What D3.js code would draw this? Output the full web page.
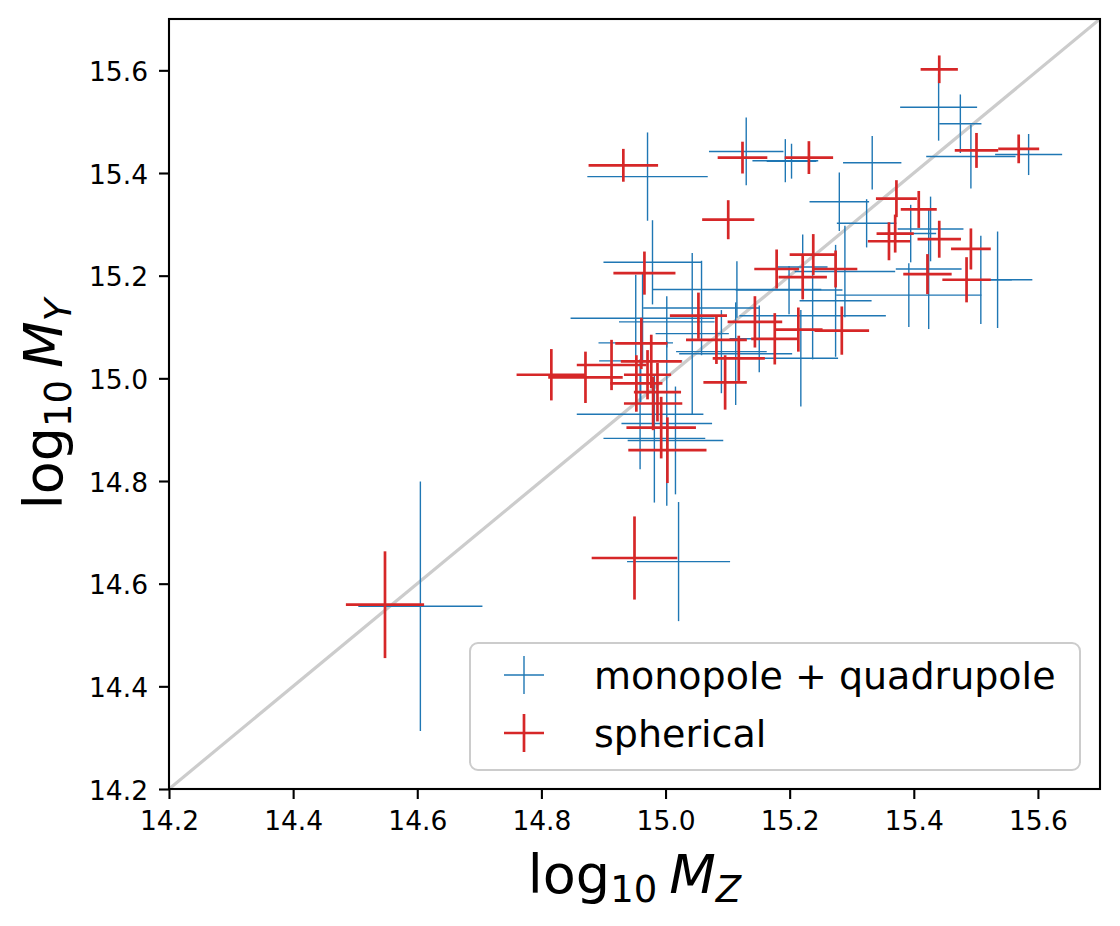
<!DOCTYPE html>
<html>
<head>
<meta charset="utf-8">
<script src="https://cdn.jsdelivr.net/npm/d3@7"></script>
<style>
  body { margin: 0; background: #fff; }
  svg { display: block; font-family: "DejaVu Sans", sans-serif; }
</style>
</head>
<body>
<svg></svg>
<script>
// --------------- data (log10 masses)

// monopole + quadrupole
const mqX    = [14.605, 15.021, 14.971, 15.130, 15.193, 15.203, 15.333, 15.440, 15.475, 15.492,
                15.585, 15.280, 15.324, 15.427, 15.395, 15.392, 15.424, 15.508, 15.535, 15.289,
                14.979, 15.115, 15.199, 15.058, 15.043, 15.002, 15.002, 14.963, 14.952, 14.960,
                14.959, 14.982, 15.016, 15.090, 15.113, 15.218, 15.237, 15.221, 15.274, 15.151];
const mqY    = [14.556, 14.643, 15.393, 15.442, 15.424, 15.423, 15.420, 15.528, 15.496, 15.432,
                15.436, 15.344, 15.302, 15.291, 15.282, 15.162, 15.213, 15.192, 15.192, 15.208,
                15.226, 15.173, 15.172, 15.137, 15.087, 15.110, 14.912, 15.117, 15.069, 15.034,
                14.930, 14.883, 14.879, 15.052, 15.048, 15.039, 15.122, 15.217, 15.151, 15.077];
const mqXerr = [0.100, 0.083, 0.097, 0.060, 0.053, 0.040, 0.047, 0.062, 0.034, 0.072,
                0.054, 0.048, 0.048, 0.053, 0.041, 0.117, 0.053, 0.050, 0.056, 0.081,
                0.079, 0.136, 0.086, 0.094, 0.059, 0.077, 0.073, 0.116, 0.060, 0.067,
                0.102, 0.082, 0.077, 0.073, 0.091, 0.060, 0.118, 0.040, 0.058, 0.048];
const mqYerr = [0.243, 0.116, 0.086, 0.066, 0.042, 0.034, 0.052, 0.065, 0.057, 0.062,
                0.040, 0.057, 0.047, 0.063, 0.056, 0.062, 0.117, 0.086, 0.094, 0.089,
                0.082, 0.055, 0.047, 0.092, 0.157, 0.050, 0.160, 0.088, 0.133, 0.080,
                0.107, 0.125, 0.105, 0.081, 0.100, 0.094, 0.085, 0.063, 0.109, 0.065];

// spherical
const spX    = [14.548, 14.950, 14.816, 14.871, 14.913, 14.961, 14.977, 14.971, 14.953, 14.980,
                14.987, 14.993, 15.003, 14.932, 15.124, 15.231, 15.101, 15.441, 15.501, 15.569,
                15.372, 15.408, 15.370, 15.360, 15.441, 15.492, 15.422, 15.485, 15.284, 15.238,
                15.179, 15.221, 15.274, 15.144, 15.176, 15.214, 15.118, 15.096, 15.053, 15.082,
                14.966];
const spY    = [14.559, 14.650, 15.007, 15.002, 15.026, 15.068, 15.033, 15.007, 14.990, 14.951,
                14.973, 14.904, 14.860, 15.415, 15.430, 15.430, 15.309, 15.602, 15.444, 15.447,
                15.350, 15.329, 15.282, 15.267, 15.271, 15.252, 15.203, 15.192, 15.093, 15.241,
                15.213, 15.197, 15.213, 15.110, 15.077, 15.095, 15.039, 14.992, 15.122, 15.075,
                15.205];
const spXerr = [0.063, 0.069, 0.056, 0.060, 0.056, 0.042, 0.049, 0.038, 0.042, 0.047,
                0.038, 0.056, 0.063, 0.056, 0.040, 0.039, 0.042, 0.030, 0.035, 0.033,
                0.033, 0.029, 0.030, 0.034, 0.035, 0.032, 0.039, 0.039, 0.044, 0.038,
                0.036, 0.039, 0.035, 0.044, 0.038, 0.039, 0.042, 0.035, 0.046, 0.049,
                0.050];
const spYerr = [0.104, 0.081, 0.050, 0.050, 0.049, 0.050, 0.052, 0.048, 0.055, 0.052,
                0.057, 0.060, 0.064, 0.032, 0.031, 0.032, 0.038, 0.027, 0.034, 0.028,
                0.036, 0.036, 0.037, 0.037, 0.036, 0.040, 0.039, 0.044, 0.047, 0.040,
                0.038, 0.043, 0.036, 0.050, 0.050, 0.043, 0.044, 0.053, 0.045, 0.047,
                0.042];

const tickValues = [14.2, 14.4, 14.6, 14.8, 15.0, 15.2, 15.4, 15.6];
const legendLabels = ['monopole + quadrupole', 'spherical'];

// --------------- setup
const width = 1120;
const height = 926;
const plotLeft = 169, plotRight = 1100, plotTop = 19, plotBottom = 789;

const svg = d3.select('svg')
  .attr('width', width)
  .attr('height', height);

const xScale = d3.scaleLinear().domain([14.2, 15.7]).range([plotLeft, plotRight]);
const yScale = d3.scaleLinear().domain([14.2, 15.7]).range([plotBottom, plotTop]);

const blue = '#1f77b4';
const red = '#d62728';

// clip so nothing leaks past the frame
svg.append('clipPath').attr('id', 'plot-clip')
  .append('rect')
  .attr('x', plotLeft).attr('y', plotTop)
  .attr('width', plotRight - plotLeft).attr('height', plotBottom - plotTop);

const plot = svg.append('g').attr('clip-path', 'url(#plot-clip)');

// one-to-one line
plot.append('line')
  .attr('x1', xScale(14.2)).attr('y1', yScale(14.2))
  .attr('x2', xScale(15.7)).attr('y2', yScale(15.7))
  .attr('stroke', '#cccccc')
  .attr('stroke-width', 3.2);

// error bar crosses
function drawSeries(xs, ys, xe, ye, color, lw) {
  const pts = xs.map(function (x, i) {
    return { x: x, y: ys[i], xe: xe[i], ye: ye[i] };
  });
  const g = plot.append('g').attr('stroke', color).attr('stroke-width', lw);

  g.selectAll('line.h').data(pts).enter()
    .append('line').attr('class', 'h')
    .attr('x1', d => xScale(d.x - d.xe))
    .attr('x2', d => xScale(d.x + d.xe))
    .attr('y1', d => yScale(d.y))
    .attr('y2', d => yScale(d.y));

  g.selectAll('line.v').data(pts).enter()
    .append('line').attr('class', 'v')
    .attr('x1', d => xScale(d.x))
    .attr('x2', d => xScale(d.x))
    .attr('y1', d => yScale(d.y - d.ye))
    .attr('y2', d => yScale(d.y + d.ye));
}

drawSeries(mqX, mqY, mqXerr, mqYerr, blue, 1.4);
drawSeries(spX, spY, spXerr, spYerr, red, 2.7);

// --------------- axes
const xAxis = svg.append('g')
  .attr('transform', 'translate(0, ' + plotBottom + ')')
  .call(d3.axisBottom(xScale).tickValues(tickValues).tickFormat(d3.format('.1f'))
    .tickSize(10).tickPadding(12));

const yAxis = svg.append('g')
  .attr('transform', 'translate(' + plotLeft + ', 0)')
  .call(d3.axisLeft(yScale).tickValues(tickValues).tickFormat(d3.format('.1f'))
    .tickSize(10).tickPadding(11));

[xAxis, yAxis].forEach(function (ax) {
  ax.select('.domain').remove();
  ax.attr('font-family', '"DejaVu Sans", sans-serif').attr('font-size', 26.5);
  ax.selectAll('.tick line').attr('stroke', '#000').attr('stroke-width', 2.1);
  ax.selectAll('.tick text').attr('fill', '#000');
});
yAxis.selectAll('.tick text').attr('dy', '0.38em');

// frame
svg.append('rect')
  .attr('x', plotLeft).attr('y', plotTop)
  .attr('width', plotRight - plotLeft).attr('height', plotBottom - plotTop)
  .attr('fill', 'none')
  .attr('stroke', '#000')
  .attr('stroke-width', 2.1);

// --------------- axis labels  (log10 M_Z / log10 M_Y)
function mathLabel(g, sub) {
  const t = g.append('text')
    .attr('text-anchor', 'middle')
    .attr('fill', '#000')
    .attr('font-size', 54);
  t.append('tspan').text('log');
  t.append('tspan').attr('font-size', 37).attr('dy', 9).text('10');
  t.append('tspan').attr('font-style', 'italic').attr('dy', -9).attr('dx', 12).text('M');
  t.append('tspan').attr('font-style', 'italic').attr('font-size', 37).attr('dy', 9).text(sub);
}

mathLabel(svg.append('g').attr('transform', 'translate(' + ((plotLeft + plotRight) / 2) + ', 893)'), 'Z');
mathLabel(svg.append('g').attr('transform', 'translate(62, ' + ((plotTop + plotBottom) / 2) + ') rotate(-90)'), 'Y');

// --------------- legend
const legend = svg.append('g');
legend.append('rect')
  .attr('x', 470).attr('y', 643)
  .attr('width', 610).attr('height', 127)
  .attr('rx', 8)
  .attr('fill', '#fff').attr('fill-opacity', 0.8)
  .attr('stroke', '#cccccc').attr('stroke-width', 2);

const legendItems = [
  { label: legendLabels[0], color: blue, lw: 1.4, y: 675 },
  { label: legendLabels[1], color: red, lw: 2.7, y: 733 }
];

legendItems.forEach(function (it) {
  legend.append('line')
    .attr('x1', 504).attr('x2', 544).attr('y1', it.y).attr('y2', it.y)
    .attr('stroke', it.color).attr('stroke-width', it.lw);
  legend.append('line')
    .attr('x1', 524).attr('x2', 524).attr('y1', it.y - 19).attr('y2', it.y + 19)
    .attr('stroke', it.color).attr('stroke-width', it.lw);
  legend.append('text')
    .attr('x', 594).attr('y', it.y + 14)
    .attr('font-size', 38)
    .attr('fill', '#000')
    .text(it.label);
});
</script>
</body>
</html>
